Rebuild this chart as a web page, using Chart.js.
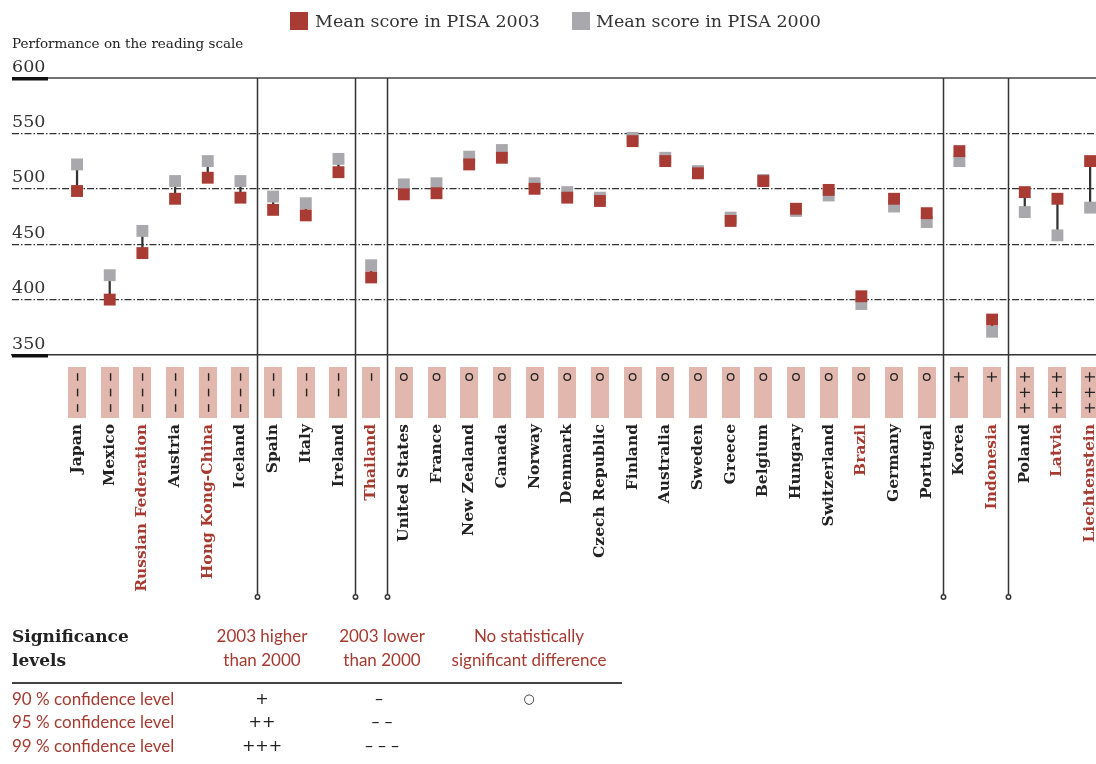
<!DOCTYPE html>
<html>
<head>
<meta charset="utf-8">
<script src="https://cdn.jsdelivr.net/npm/chart.js@4.4.1/dist/chart.umd.min.js"></script>
<style>
  html, body { margin: 0; padding: 0; background: #fff; overflow: hidden; }
  #wrap { position: relative; width: 1096px; height: 764px; }
  #chart { position: absolute; left: 0; top: 0; }
  .lg-box { position: absolute; top: 12px; width: 18px; height: 18px; }
  .lg-txt { position: absolute; top: 9px; font: 17.5px "DejaVu Serif"; color: #333; white-space: nowrap; line-height: 24px; }
  .sig-title { position: absolute; left: 12px; top: 624px; font: bold 17px "DejaVu Serif"; color: #222; line-height: 24px; }
  .col { position: absolute; top: 624px; text-align: center; font: 17px Lato; color: #a53a30; line-height: 24px; white-space: nowrap; }
  .rule { position: absolute; left: 12px; top: 682px; width: 610px; height: 1.5px; background: #444; }
  .row { position: absolute; left: 12px; font: 17px Lato; color: #a53a30; line-height: 23.5px; white-space: nowrap; }
  .sym { position: absolute; text-align: center; font: 16px "DejaVu Sans"; color: #222; line-height: 23.5px; width: 80px; }
</style>
</head>
<body>
<div id="wrap">
  <canvas id="chart" width="1096" height="764"></canvas>

  <div class="lg-box" style="left:290px;background:#a83c34"></div>
  <div class="lg-txt" style="left:315px">Mean score in PISA 2003</div>
  <div class="lg-box" style="left:572px;background:#a9a9ad"></div>
  <div class="lg-txt" style="left:596px">Mean score in PISA 2000</div>

  <div class="sig-title">Significance<br>levels</div>
  <div class="col" style="left:192px;width:140px">2003 higher<br>than 2000</div>
  <div class="col" style="left:312px;width:140px">2003 lower<br>than 2000</div>
  <div class="col" style="left:434px;width:190px">No statistically<br>significant difference</div>
  <div class="rule"></div>

  <div class="row" style="top:687px">90 % confidence level</div>
  <div class="row" style="top:710px">95 % confidence level</div>
  <div class="row" style="top:734px">99 % confidence level</div>
  <div class="sym" style="left:222px;top:687px">+</div>
  <div class="sym" style="left:222px;top:710px">++</div>
  <div class="sym" style="left:222px;top:734px">+++</div>
  <div class="sym" style="left:339px;top:687px">–</div>
  <div class="sym" style="left:342px;top:710px">– –</div>
  <div class="sym" style="left:342px;top:734px">– – –</div>
  <div class="sym" style="left:489px;top:687px;font-size:13px">○</div>
</div>

<script>
// ── data ────────────────────────────────────────────────
const countries = [
  "Japan", "Mexico", "Russian Federation", "Austria", "Hong Kong-China", "Iceland",
  "Spain", "Italy", "Ireland", "Thailand", "United States", "France", "New Zealand",
  "Canada", "Norway", "Denmark", "Czech Republic", "Finland", "Australia", "Sweden",
  "Greece", "Belgium", "Hungary", "Switzerland", "Brazil", "Germany", "Portugal",
  "Korea", "Indonesia", "Poland", "Latvia", "Liechtenstein",
];
const score2003 = [
  498, 400, 442, 491, 510, 492, 481, 476, 515, 420, 495, 496, 522, 528, 500, 492,
  489, 543, 525, 514, 471, 507, 482, 499, 403, 491, 478, 534, 382, 497, 491, 525,
];
const score2000 = [
  522, 422, 462, 507, 525, 507, 493, 487, 527, 431, 504, 505, 529, 535, 505, 497,
  492, 546, 528, 516, 474, 508, 480, 494, 396, 484, 470, 525, 371, 479, 458, 483,
];
// significance of the change (- lower, + higher, o none)
const signif = [
  "---", "---", "---", "---", "---", "---", "--", "--", "--", "-",
  "o", "o", "o", "o", "o", "o", "o", "o", "o", "o", "o", "o", "o", "o", "o", "o", "o",
  "+", "+", "+++", "+++", "+++",
];
// partner countries (red labels)
const partners = [
  "Russian Federation", "Hong Kong-China", "Thailand", "Brazil", "Indonesia", "Latvia", "Liechtenstein",
];
const yTicks = [350, 400, 450, 500, 550, 600];

// ── colours ─────────────────────────────────────────────
const RED   = "#a83c34";
const GREY  = "#a9a9ad";
const PINK  = "#e2b7ad";
const RED_T = "#a53a30";
const DARK  = "#222";

// ── decoration plugin: top rule, stubs, dividers, significance boxes ──
const decor = {
  id: "decor",
  beforeDatasetsDraw(chart) {
    const { ctx, chartArea: a, scales: { x, y } } = chart;
    ctx.save();
    // solid rule at 600
    const yTop = y.getPixelForValue(600);
    ctx.strokeStyle = "#444";
    ctx.lineWidth = 1.5;
    ctx.beginPath();
    ctx.moveTo(a.left, yTop);
    ctx.lineTo(a.right, yTop);
    ctx.stroke();

    // group dividers where the significance changes
    ctx.strokeStyle = "#333";
    ctx.lineWidth = 1.5;
    for (let i = 1; i < signif.length; i++) {
      if (signif[i] === signif[i - 1]) continue;
      const px = Math.round(x.getPixelForValue(i - 0.5)) + 0.5;
      const end = a.bottom + 242;
      ctx.beginPath();
      ctx.moveTo(px, yTop);
      ctx.lineTo(px, end);
      ctx.stroke();
      ctx.beginPath();
      ctx.fillStyle = "#fff";
      ctx.arc(px, end, 2.2, 0, Math.PI * 2);
      ctx.fill();
      ctx.stroke();
    }
    ctx.restore();
  },
  afterDraw(chart) {
    const { ctx, chartArea: a, scales: { x, y } } = chart;
    ctx.save();

    // thick stubs under 600 and 350
    ctx.fillStyle = "#111";
    [600, 350].forEach((v) => {
      const py = y.getPixelForValue(v);
      ctx.fillRect(a.left, py - 1, 36, 3.5);
    });

    // axis title
    ctx.fillStyle = DARK;
    ctx.font = '13.5px "DejaVu Serif"';
    ctx.textAlign = "left";
    ctx.textBaseline = "middle";
    ctx.fillText("Performance on the reading scale", a.left, 44);

    // significance boxes
    const top = a.bottom + 12;
    countries.forEach((_, i) => {
      const cx = x.getPixelForValue(i);
      ctx.fillStyle = PINK;
      ctx.fillRect(Math.round(cx - 9), top, 18, 51);

      const s = signif[i];
      ctx.fillStyle = DARK;
      ctx.strokeStyle = DARK;
      for (let k = 0; k < s.length; k++) {
        const cy = top + 10 + k * 15.5;
        if (s[k] === "o") {
          ctx.lineWidth = 1.3;
          ctx.beginPath();
          ctx.arc(cx, cy, 3.3, 0, Math.PI * 2);
          ctx.stroke();
          continue;
        }
        ctx.save();
        ctx.translate(cx, cy);
        ctx.rotate(-Math.PI / 2);
        ctx.textAlign = "center";
        ctx.textBaseline = "middle";
        ctx.font = s[k] === "-" ? '19px "DejaVu Sans"' : '15px "DejaVu Sans"';
        ctx.fillText(s[k] === "-" ? "–" : "+", 0, 1);
        ctx.restore();
      }
    });
    ctx.restore();
  },
};

// ── chart ───────────────────────────────────────────────
const idx = countries.map((_, i) => i);

new Chart(document.getElementById("chart"), {
  type: "scatter",
  plugins: [decor],
  data: {
    datasets: [
      {
        label: "Mean score in PISA 2003",
        data: idx.map((i) => ({ x: i, y: score2003[i] })),
        backgroundColor: RED,
        borderWidth: 0,
        pointStyle: "rect",
        pointRadius: 8.4,
      },
      {
        label: "Mean score in PISA 2000",
        data: idx.map((i) => ({ x: i, y: score2000[i] })),
        backgroundColor: GREY,
        borderWidth: 0,
        pointStyle: "rect",
        pointRadius: 8.4,
      },
      {
        type: "bar",
        label: "change",
        data: idx.map((i) => ({ x: i, y: [score2000[i], score2003[i]] })),
        backgroundColor: "#333",
        borderWidth: 0,
        barThickness: 1.6,
        grouped: false,
      },
    ],
  },
  options: {
    responsive: false,
    animation: false,
    events: [],
    layout: { autoPadding: false, padding: { top: 78, left: 12, right: 0, bottom: 0 } },
    plugins: {
      legend: { display: false },
      tooltip: { enabled: false },
    },
    scales: {
      x: {
        type: "linear",
        offset: false,
        min: -1.99,
        max: 31.18,
        afterBuildTicks: (s) => { s.ticks = idx.map((i) => ({ value: i })); },
        afterFit: (s) => { s.height = 409; s.paddingLeft = 0; s.paddingRight = 0; },
        grid: { display: false, offset: false, drawTicks: false, tickLength: 0 },
        border: { display: true, color: "#333", width: 1.5 },
        ticks: {
          autoSkip: false,
          minRotation: 90,
          maxRotation: 90,
          padding: 69,
          font: { family: "DejaVu Serif", size: 15.5, weight: "bold" },
          color: (c) => (c.tick && partners.includes(countries[c.tick.value]) ? RED_T : DARK),
          callback: (v) => countries[v],
        },
      },
      y: {
        min: 350,
        max: 600,
        afterBuildTicks: (s) => { s.ticks = yTicks.map((v) => ({ value: v })); },
        afterFit: (s) => { s.width = 0; },
        grid: {
          drawTicks: false,
          lineWidth: 1.3,
          color: (c) => (c.tick && (c.tick.value === 600 || c.tick.value === 350) ? "rgba(0,0,0,0)" : "#333"),
        },
        border: { display: false, dash: [7, 2, 1.5, 2] },
        ticks: {
          mirror: true,
          padding: 0,
          labelOffset: -11,
          color: "#333",
          font: { family: "DejaVu Serif", size: 17.5 },
        },
      },
    },
  },
});
</script>
</body>
</html>
